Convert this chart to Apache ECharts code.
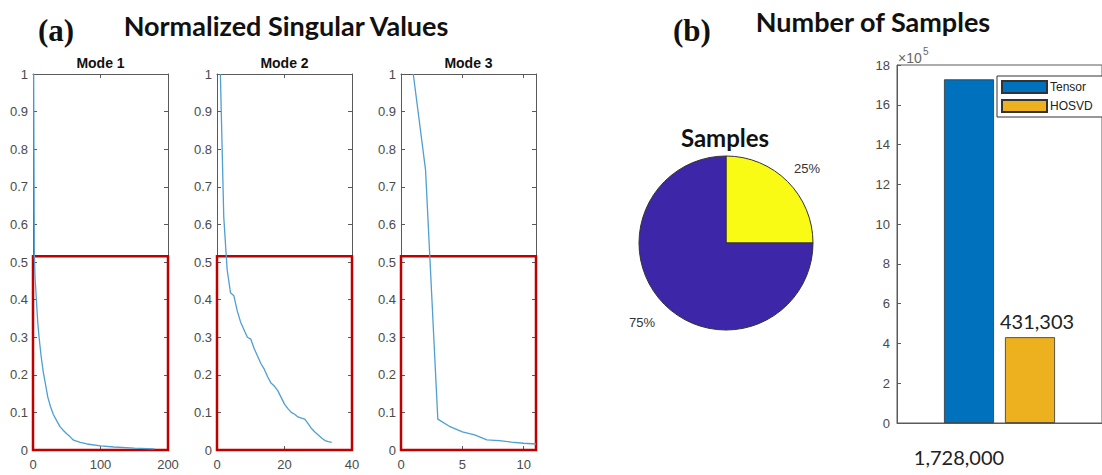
<!DOCTYPE html>
<html><head><meta charset="utf-8">
<script src="https://cdn.jsdelivr.net/npm/echarts@6/dist/echarts.min.js"></script>
<style>html,body{margin:0;padding:0;background:#fff}#c{width:1102px;height:475px}</style>
</head><body><div id="c"></div>
<script>
// ---- data ----
const modeTitles = ['Mode 1', 'Mode 2', 'Mode 3'];
const modeXMax = [200, 40, 11];
const modeXInterval = [100, 20, 5];
const mode1X = [1,2,3,5,7,9,12,15,18,22,26,30,35,40,45,50,55,60,70,80,100,120,150,180];
const mode1Y = [1.0,0.52,0.46,0.40,0.34,0.30,0.25,0.21,0.18,0.14,0.115,0.095,0.078,0.062,0.052,0.043,0.035,0.026,0.020,0.016,0.011,0.008,0.005,0.003];
const mode2X = [1,2,3,4,5,6,7,8,9,10,11,12,13,14,15,16,17,18,19,20,21,22,23,24,25,26,27,28,29,30,31,32,33,34];
const mode2Y = [1.0,0.62,0.48,0.418,0.41,0.37,0.34,0.32,0.30,0.295,0.27,0.25,0.23,0.215,0.195,0.178,0.17,0.158,0.14,0.122,0.11,0.10,0.095,0.088,0.085,0.082,0.07,0.057,0.048,0.04,0.032,0.025,0.022,0.02];
const mode3X = [1,2,3,4,5,6,7,8,9,10,11];
const mode3Y = [1.0,0.745,0.082,0.062,0.048,0.04,0.027,0.025,0.021,0.018,0.016];
const redBoxTop = 0.515;
const yTicksMax = 1, yTickStep = 0.1;

const pieNames = ['HOSVD', 'Other'];
const pieValues = [25, 75];

const barCategories = [''];
const tensorValues = [1728000];
const hosvdValues = [431303];
const barAxisMax = 1800000, barAxisStep = 200000, barScale = 100000;

// ---- layout ----
const modeX = [mode1X, mode2X, mode3X];
const modeY = [mode1Y, mode2Y, mode3Y];
const gridLefts = [33, 217, 401];
const gridW = 135, gridTop = 74, gridH = 376;
const axisCol = '#5a5a5a', labCol = '#4a4a4a';
const sans = '"Liberation Sans", Arial, Helvetica, sans-serif';
const calib = 'Lato, "Open Sans", sans-serif';

const grids = [], xAxes = [], yAxes = [], series = [], graphics = [];
for (let i = 0; i < 3; i++) {
  grids.push({left: gridLefts[i], top: gridTop, width: gridW, height: gridH, show: false});
  const baseX = {type: 'value', gridIndex: i, min: 0, max: modeXMax[i], interval: modeXInterval[i],
    splitLine: {show: false}, axisLine: {show: true, onZero: false, lineStyle: {color: axisCol, width: 1}},
    axisTick: {show: true, inside: true, length: 4, lineStyle: {color: axisCol}}};
  xAxes.push(Object.assign({}, baseX, {position: 'bottom',
    axisLabel: {show: true, color: labCol, fontSize: 13, fontFamily: sans, margin: 8, showMaxLabel: modeXMax[i] % modeXInterval[i] === 0}}));
  xAxes.push(Object.assign({}, baseX, {position: 'top', axisLabel: {show: false}}));
  const baseY = {type: 'value', gridIndex: i, min: 0, max: yTicksMax, interval: yTickStep,
    splitLine: {show: false}, axisLine: {show: true, onZero: false, lineStyle: {color: axisCol, width: 1}},
    axisTick: {show: true, inside: true, length: 4, lineStyle: {color: axisCol}}};
  yAxes.push(Object.assign({}, baseY, {position: 'left',
    axisLabel: {show: true, color: labCol, fontSize: 13, fontFamily: sans, margin: 5}}));
  yAxes.push(Object.assign({}, baseY, {position: 'right', axisLabel: {show: false}}));
  series.push({
    type: 'line', xAxisIndex: 2 * i, yAxisIndex: 2 * i,
    data: modeX[i].map((x, k) => [x, modeY[i][k]]),
    showSymbol: false, symbol: 'none', silent: true, animation: false,
    lineStyle: {color: '#4f9fd0', width: 1.3},
    markArea: {silent: true,
      itemStyle: {color: 'rgba(0,0,0,0)', borderColor: '#c00000', borderWidth: 2.5},
      data: [[{coord: [0, 0]}, {coord: [modeXMax[i], redBoxTop]}]]}
  });
  graphics.push({type: 'text', x: gridLefts[i] + gridW / 2, y: 63,
    style: {text: modeTitles[i], fill: '#111', font: 'bold 14px ' + sans,
      align: 'center', verticalAlign: 'middle', textAlign: 'center', textVerticalAlign: 'middle'}});
}

// bar grid
grids.push({left: 897, top: 65, width: 210, height: 358, show: true, borderColor: axisCol, borderWidth: 1, backgroundColor: 'transparent'});
xAxes.push({type: 'category', gridIndex: 3, data: barCategories, position: 'bottom',
  axisLine: {show: true, lineStyle: {color: axisCol}}, axisTick: {show: false}, axisLabel: {show: false}});
yAxes.push({type: 'value', gridIndex: 3, min: 0, max: barAxisMax, interval: barAxisStep, position: 'left',
  splitLine: {show: false}, axisLine: {show: true, lineStyle: {color: axisCol}},
  axisTick: {show: true, inside: true, length: 4, lineStyle: {color: axisCol}},
  axisLabel: {color: labCol, fontSize: 13, fontFamily: sans, margin: 7, formatter: v => String(Math.round(v / barScale))}});
const fmtNum = v => Number(v).toLocaleString('en-US');
series.push({type: 'bar', name: 'Tensor', xAxisIndex: 6, yAxisIndex: 6, data: tensorValues,
  barWidth: 50, barGap: '22%', animation: false,
  itemStyle: {color: '#0072bd', borderColor: '#333', borderWidth: 0.8},
  label: {show: true, position: 'bottom', distance: 24, offset: [-10, 0], formatter: p => fmtNum(p.value),
    fontSize: 20, fontFamily: calib, color: '#222'}});
series.push({type: 'bar', name: 'HOSVD', xAxisIndex: 6, yAxisIndex: 6, data: hosvdValues,
  barWidth: 50, barGap: '22%', animation: false,
  itemStyle: {color: '#edb120', borderColor: '#333', borderWidth: 0.8},
  label: {show: true, position: 'top', distance: 6, offset: [7, 0], formatter: p => fmtNum(p.value),
    fontSize: 20, fontFamily: calib, color: '#222'}});

// pie
const pieLabelLen = [19, 26], pieLabelDist = [-7, -9];
series.push({type: 'pie', center: [726, 243], radius: 87, startAngle: 90, clockwise: true, animation: false,
  silent: true, avoidLabelOverlap: false,
  data: pieNames.map((n, k) => ({name: n, value: pieValues[k],
    itemStyle: {color: k === 0 ? '#f9fb15' : '#3e26a8'},
    label: {distanceToLabelLine: pieLabelDist[k]},
    labelLine: {show: false, length: pieLabelLen[k], length2: 0}})),
  itemStyle: {borderColor: '#333', borderWidth: 1},
  label: {show: true, position: 'outside', formatter: p => Math.round(p.percent) + '%',
    fontSize: 13, fontFamily: sans, color: '#333'},
  labelLine: {show: false, length: 20, length2: 0},
  emphasis: {disabled: true}});

// titles
const T = (text, x, y, font, align, fill) => ({type: 'text', x, y,
  style: {text, fill: fill || '#111', font, align: align || 'center', verticalAlign: 'middle',
    textAlign: align || 'center', textVerticalAlign: 'middle'}});
graphics.push(T('(a)', 38, 30, 'bold 31px "Liberation Serif", "Times New Roman", serif', 'left'));
graphics.push(T('Normalized Singular Values', 286, 25, 'bold 27px ' + calib));
graphics.push(T('(b)', 673, 30, 'bold 31px "Liberation Serif", "Times New Roman", serif', 'left'));
graphics.push(T('Number of Samples', 873, 21, 'bold 27px ' + calib));
graphics.push(T('Samples', 725, 137, 'bold 24px ' + calib));
// axis exponent (×10^5)
graphics.push({type: 'text', x: 898, y: 58, style: {text: '×10', fill: '#666', fontSize: 14, fontFamily: 'Liberation Sans',
  align: 'left', verticalAlign: 'middle', textAlign: 'left', textVerticalAlign: 'middle'}});
graphics.push({type: 'text', x: 923, y: 51, style: {text: '5', fill: '#666', fontSize: 10, fontFamily: 'Liberation Sans',
  align: 'left', verticalAlign: 'middle', textAlign: 'left', textVerticalAlign: 'middle'}});

const chart = echarts.init(document.getElementById('c'), null, {renderer: 'svg'});
chart.setOption({
  animation: false,
  backgroundColor: '#fff',
  grid: grids, xAxis: xAxes, yAxis: yAxes, series,
  legend: {data: ['Tensor', 'HOSVD'], orient: 'vertical', left: 997, top: 76, itemWidth: 45, itemHeight: 12, itemGap: 5,
    padding: [4, 14, 4, 4], borderColor: '#333', borderWidth: 1, backgroundColor: '#fff', icon: 'rect',
    selectedMode: false, textStyle: {fontSize: 12, fontFamily: sans, color: '#222', padding: [0, 0, 0, -2]}},
  graphic: graphics
});
</script></body></html>
